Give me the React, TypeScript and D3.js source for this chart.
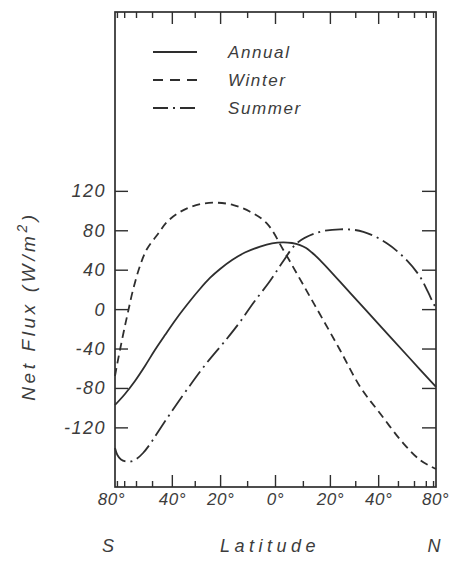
import { useEffect, useRef } from 'react';
import * as d3 from 'd3';

// latitude in degrees (S negative), net flux in W/m^2
const annualLat = [-90, -69.7, -61.1, -54.4, -48.7, -43.5, -37.9, -32.2, -28.1, -24.1, -20.2, -15.7, -11, -5.5, -1.25, 2.7, 5.9, 8.8, 11, 13.1, 16.1, 27.7, 40.6, 56.9, 90];
const annualFlux = [-96.8, -85.6, -72.4, -57.2, -41, -25.8, -8.5, 8.7, 20.9, 32.1, 41.2, 50.3, 57.9, 64, 67.3, 68.3, 67.6, 65.5, 62.5, 57.9, 50.3, 17, -16.3, -49.6, -78.5];

const winterLat = [-90, -80.9, -75.7, -70.7, -66.8, -62.6, -57.6, -53.2, -47.1, -42.1, -35, -28, -21.5, -15.2, -9.1, -3.1, 2.8, 7.6, 12.4, 17.3, 23.7, 31.8, 40.6, 52.8, 64.2, 74.3, 90];
const winterFlux = [-67.4, -56.2, -41, -20.9, -2.6, 19.9, 44.3, 61.5, 76.7, 89.9, 101, 107, 108.5, 106.1, 99.3, 87.6, 60.5, 36.8, 13.1, -10.6, -41, -78.2, -105.2, -135.7, -152.6, -158.7, -161.7];

const summerLat = [-90, -80.1, -74.3, -68.7, -64.2, -59.6, -55.6, -51.4, -47.6, -41.1, -33.6, -25.4, -17.7, -12.8, -7.95, -1.97, 2.8, 7.6, 14.9, 23.7, 33.2, 43.9, 54.8, 64.2, 71.8, 79.5, 90];
const summerFlux = [-140.4, -147.5, -152.1, -154.1, -154.1, -151.1, -145.5, -136.4, -125.7, -105.9, -81.6, -54.2, -29.8, -12.6, 6.7, 29, 49.3, 67.3, 78, 81.5, 79, 67.3, 50.3, 33.4, 17.9, 6.4, 1.6];

const yTicks = [-120, -80, -40, 0, 40, 80, 120];
const latTicks = [-80, -70, -60, -50, -40, -30, -20, -10, 0, 10, 20, 30, 40, 50, 60, 70, 80];
const latLabels = [-80, -40, -20, 0, 20, 40, 80];
const legendNames = ['Annual', 'Winter', 'Summer'];

const dashes = ['none', '8,5', '18,5,2,5'];
const legendDashes = ['none', '10,7', '15,5,2,5'];

const FONT = "'Liberation Sans', Arial, sans-serif";
const INK = '#2e2e2e';
const TEXT = '#3c3c3c';

function App() {
  const ref = useRef<SVGSVGElement>(null);

  useEffect(() => {
    const svg = d3.select(ref.current);
    svg.selectAll('*').remove();

    const left = 115, right = 436, top = 12, bottom = 487;

    // x axis is area weighted: position goes with sin(latitude)
    const xs = d3.scaleLinear().domain([-1, 1]).range([left, right]);
    const x = (lat: number) => xs(Math.sin((lat * Math.PI) / 180));
    const y = d3.scaleLinear().domain([-180, 302]).range([bottom, top]);

    // frame
    svg.append('rect')
      .attr('x', left).attr('y', top)
      .attr('width', right - left).attr('height', bottom - top)
      .attr('fill', 'none').attr('stroke', INK).attr('stroke-width', 1.7);

    // latitude ticks, bottom and top
    const isLong = (d: number) => Math.abs(d) <= 40 && d % 20 === 0;
    svg.append('g').selectAll('line')
      .data(latTicks).enter().append('line')
      .attr('x1', (d) => x(d)).attr('x2', (d) => x(d))
      .attr('y1', bottom).attr('y2', (d) => bottom - (isLong(d) ? 12 : 6))
      .attr('stroke', INK).attr('stroke-width', 1.4);
    svg.append('g').selectAll('line')
      .data(latTicks).enter().append('line')
      .attr('x1', (d) => x(d)).attr('x2', (d) => x(d))
      .attr('y1', top).attr('y2', (d) => top + (isLong(d) ? 12 : 6))
      .attr('stroke', INK).attr('stroke-width', 1.4);

    // flux ticks, left and right
    svg.append('g').selectAll('line')
      .data(yTicks).enter().append('line')
      .attr('x1', left).attr('x2', left + 13)
      .attr('y1', (d) => y(d)).attr('y2', (d) => y(d))
      .attr('stroke', INK).attr('stroke-width', 1.4);
    svg.append('g').selectAll('line')
      .data(yTicks).enter().append('line')
      .attr('x1', right).attr('x2', right - 14)
      .attr('y1', (d) => y(d)).attr('y2', (d) => y(d))
      .attr('stroke', INK).attr('stroke-width', 1.4);

    // tick labels
    svg.append('g').selectAll('text')
      .data(yTicks).enter().append('text')
      .attr('x', 106).attr('y', (d) => y(d))
      .attr('text-anchor', 'end').attr('dominant-baseline', 'central')
      .attr('font-family', FONT).attr('font-style', 'italic').attr('font-size', 18)
      .attr('letter-spacing', 1.5).attr('fill', TEXT)
      .text((d) => String(d));

    svg.append('g').selectAll('text')
      .data(latLabels).enter().append('text')
      .attr('x', (d) => x(d) + (d === -80 ? -6 : d === 80 ? 2 : 0))
      .attr('y', 505)
      .attr('text-anchor', 'middle')
      .attr('font-family', FONT).attr('font-style', 'italic').attr('font-size', 17)
      .attr('letter-spacing', 0.5).attr('fill', TEXT)
      .text((d) => `${Math.abs(d)}°`);

    // axis titles
    const xt = svg.append('g')
      .attr('font-family', FONT).attr('font-style', 'italic').attr('font-size', 18)
      .attr('fill', TEXT);
    xt.append('text').attr('x', 108).attr('y', 552).attr('text-anchor', 'middle').text('S');
    xt.append('text').attr('x', 270).attr('y', 552).attr('text-anchor', 'middle')
      .attr('letter-spacing', 4.5).text('Latitude');
    xt.append('text').attr('x', 434).attr('y', 552).attr('text-anchor', 'middle').text('N');

    const yt = svg.append('text')
      .attr('transform', 'translate(35,306) rotate(-90)')
      .attr('text-anchor', 'middle')
      .attr('font-family', FONT).attr('font-style', 'italic').attr('font-size', 19)
      .attr('letter-spacing', 3.6).attr('fill', TEXT);
    yt.append('tspan').text('Net Flux (W/m');
    yt.append('tspan').attr('dy', -8).attr('font-size', 14).text('2');
    yt.append('tspan').attr('dy', 8).text(')');

    // curves
    const series = [
      { lat: annualLat, flux: annualFlux },
      { lat: winterLat, flux: winterFlux },
      { lat: summerLat, flux: summerFlux },
    ];
    const line = d3.line<[number, number]>().curve(d3.curveCatmullRom.alpha(0.5));

    series.forEach((s, i) => {
      const pts = s.lat.map((la, j) => [x(la), y(s.flux[j])] as [number, number]);
      svg.append('path')
        .attr('d', line(pts))
        .attr('fill', 'none')
        .attr('stroke', INK)
        .attr('stroke-width', 1.8)
        .attr('stroke-dasharray', dashes[i]);
    });

    // legend
    const lg = svg.append('g');
    legendNames.forEach((name, i) => {
      const ly = 52 + i * 28;
      lg.append('line')
        .attr('x1', 153).attr('x2', 197).attr('y1', ly).attr('y2', ly)
        .attr('stroke', INK).attr('stroke-width', 1.8)
        .attr('stroke-dasharray', legendDashes[i]);
      lg.append('text')
        .attr('x', 228).attr('y', ly)
        .attr('dominant-baseline', 'central')
        .attr('font-family', FONT).attr('font-style', 'italic').attr('font-size', 17)
        .attr('letter-spacing', 1.6).attr('fill', TEXT)
        .text(name);
    });
  }, []);

  return (
    <svg
      ref={ref}
      width={456}
      height={562}
      style={{ position: 'absolute', left: 0, top: 0, background: '#fff' }}
    />
  );
}

export default App;
